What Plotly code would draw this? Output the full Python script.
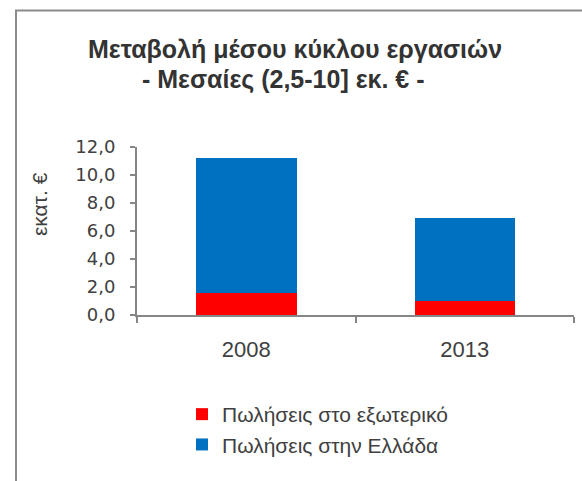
import plotly.graph_objects as go

# Data (million €)
years = ["2008", "2013"]
exports = [1.6, 1.0]
domestic = [9.6, 5.9]
series_names = ["Πωλήσεις στο εξωτερικό", "Πωλήσεις στην Ελλάδα"]
y_ticks = [0, 2, 4, 6, 8, 10, 12]
y_tick_text = ["0,0", "2,0", "4,0", "6,0", "8,0", "10,0", "12,0"]
title_lines = ["Μεταβολή μέσου κύκλου εργασιών", "- Μεσαίες (2,5-10] εκ. € -"]
y_title = "εκατ. €"

W, H = 582, 481
ML, MR, MT, MB = 137, 8, 147, 166
pw, ph = W - ML - MR, H - MT - MB

def px_x(px):
    return (px - ML) / pw

def px_y(py):
    return (H - MB - py) / ph

text_col = "#404040"
axis_col = "#868686"
sans = "Liberation Sans"

fig = go.Figure()
fig.add_trace(go.Bar(x=years, y=exports, name=series_names[0],
                     legendgroup="a",
                     marker=dict(color="#FF0000", line=dict(width=0)),
                     width=0.46))
fig.add_trace(go.Bar(x=years, y=domestic, name=series_names[1],
                     legendgroup="b",
                     marker=dict(color="#0070C0", line=dict(width=0)),
                     width=0.46))

annotations = [
    dict(text="<b>%s</b>" % title_lines[0], xref="paper", yref="paper",
         x=px_x(295), y=px_y(49), xanchor="center", yanchor="middle",
         showarrow=False, font=dict(family=sans, size=25, color="#333333")),
    dict(text="<b>%s</b>" % title_lines[1], xref="paper", yref="paper",
         x=px_x(283), y=px_y(79), xanchor="center", yanchor="middle",
         showarrow=False, font=dict(family=sans, size=25, color="#333333")),
    dict(text=y_title, xref="paper", yref="paper", textangle=-90,
         x=px_x(39), y=px_y(204), xanchor="center", yanchor="middle",
         showarrow=False, font=dict(family=sans, size=21, color=text_col)),
]

fig.update_layout(
    width=W, height=H,
    margin=dict(l=ML, r=MR, t=MT, b=MB),
    barmode="stack",
    paper_bgcolor="white", plot_bgcolor="white",
    font=dict(family=sans, color=text_col, size=18),
    xaxis=dict(
        type="category",
        showline=True, linecolor=axis_col, linewidth=2,
        ticks="outside", tickson="boundaries", ticklen=6,
        tickcolor=axis_col, tickwidth=2,
        showgrid=False, zeroline=False,
        tickfont=dict(family=sans, size=22, color=text_col),
        ticklabelstandoff=14,
    ),
    yaxis=dict(
        range=[0, 12],
        tickvals=y_ticks, ticktext=y_tick_text,
        showline=True, linecolor=axis_col, linewidth=2,
        ticks="outside", ticklen=5, tickcolor=axis_col, tickwidth=2,
        showgrid=False, zeroline=False,
        tickfont=dict(family="DejaVu Sans", size=18, color=text_col),
        ticklabelstandoff=11,
    ),
    legend=dict(
        traceorder="grouped",
        x=px_x(182), xanchor="left",
        y=px_y(394), yanchor="top",
        font=dict(family=sans, size=21, color=text_col),
        itemwidth=30, tracegroupgap=0,
        bgcolor="rgba(0,0,0,0)",
    ),
    annotations=annotations,
    shapes=[dict(
        type="rect", xref="paper", yref="paper",
        x0=px_x(16), x1=px_x(W + 20), y0=px_y(H + 20), y1=px_y(10.5),
        line=dict(color="#8c8c8c", width=2), fillcolor="rgba(0,0,0,0)",
        layer="below",
    )],
    showlegend=True,
)

fig.write_html("out.html")
